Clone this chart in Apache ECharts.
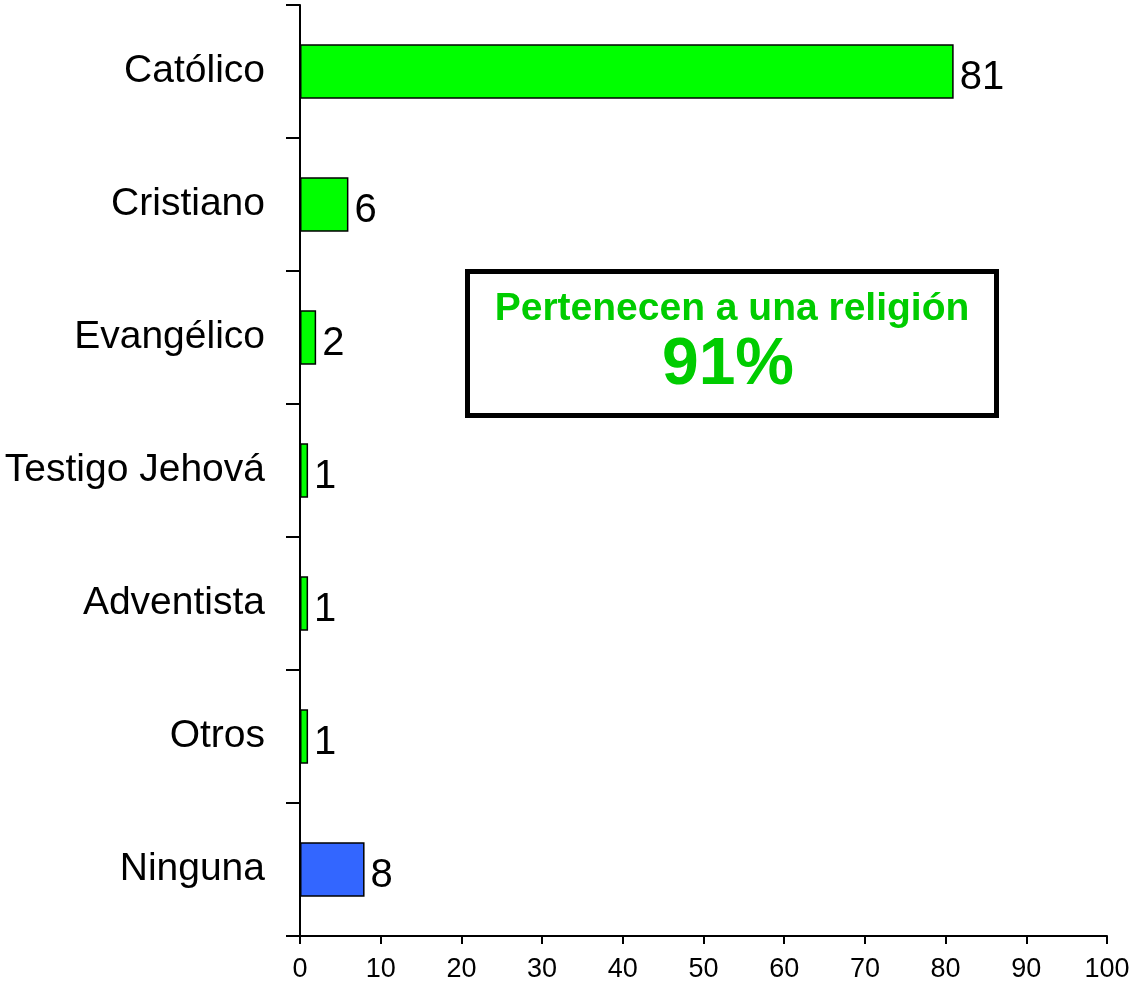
<!DOCTYPE html>
<html>
    <head>
        <meta charset="utf-8">
        <title>Religión</title>
        <script src="https://cdn.jsdelivr.net/npm/echarts@6/dist/echarts.min.js"></script>
        <style>
            html, body { margin: 0; padding: 0; background: #fff; }
            #chart1 { width: 1134px; height: 989px; }
        </style>
    </head>
    <body>
        <div id="chart1"></div>
    </body>
    <script type="text/javascript">
        // datos
        var categorias = ['Católico', 'Cristiano', 'Evangélico', 'Testigo Jehová', 'Adventista', 'Otros', 'Ninguna'];
        var valores = [81, 6, 2, 1, 1, 1, 8];
        var colores = ['#00ff00', '#00ff00', '#00ff00', '#00ff00', '#00ff00', '#00ff00', '#3366ff'];
        var textoCaja = 'Pertenecen a una religión';
        var porcentaje = '91%';

        var fuente = '"Liberation Sans Narrow", "Liberation Sans", Arial, sans-serif';

        var myChart1 = echarts.init(document.getElementById('chart1'));

        var option = {
            backgroundColor: '#fff',
            animation: false,
            grid: { left: 300, top: 5, right: 27, bottom: 53, outerBoundsMode: 'none', containLabel: false },
            xAxis: {
                type: 'value',
                min: 0,
                max: 100,
                interval: 10,
                splitLine: { show: false },
                axisLine: { show: true, lineStyle: { color: '#000', width: 2 } },
                axisTick: { show: true, length: 8, lineStyle: { color: '#000', width: 2 } },
                axisLabel: { color: '#000', fontSize: 27, fontFamily: fuente, margin: 20 }
            },
            yAxis: {
                type: 'category',
                inverse: true,
                data: categorias,
                axisLine: { show: true, lineStyle: { color: '#000', width: 2 } },
                axisTick: { show: true, length: 14, lineStyle: { color: '#000', width: 2 } },
                axisLabel: { color: '#000', fontSize: 39, fontFamily: fuente, margin: 35 }
            },
            series: [{
                type: 'bar',
                barCategoryGap: '59%',
                data: valores.map(function (v, i) {
                    return { value: v, itemStyle: { color: colores[i] } };
                }),
                itemStyle: { borderColor: '#000', borderWidth: 1.5 },
                label: {
                    show: true,
                    position: 'right',
                    distance: 6,
                    offset: [0, 6],
                    color: '#000',
                    fontSize: 40,
                    fontFamily: fuente
                }
            }],
            graphic: [{
                type: 'rect',
                left: 465,
                top: 269,
                shape: { width: 529, height: 144 },
                style: { fill: '#fff', stroke: '#000', lineWidth: 5 },
                z: 10
            }, {
                type: 'text',
                x: 732,
                y: 309,
                style: {
                    text: textoCaja,
                    fill: '#00cc00',
                    font: 'bold 39px ' + fuente,
                    textAlign: 'center',
                    textVerticalAlign: 'middle'
                },
                z: 11
            }, {
                type: 'text',
                x: 728,
                y: 366,
                style: {
                    text: porcentaje,
                    fill: '#00cc00',
                    font: 'bold 66px ' + fuente,
                    textAlign: 'center',
                    textVerticalAlign: 'middle'
                },
                z: 11
            }]
        };
        myChart1.setOption(option);
    </script>
</html>
